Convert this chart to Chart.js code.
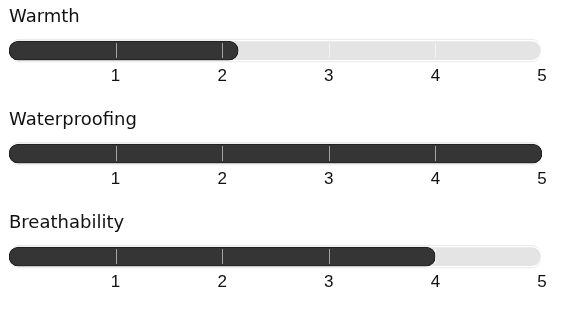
<!DOCTYPE html>
<html>
<head>
<meta charset="utf-8">
<script src="https://cdn.jsdelivr.net/npm/chart.js@4"></script>
<style>
html,body{margin:0;padding:0;background:#fff;}
.row{position:absolute;left:0;width:572px;height:103px;}
</style>
</head>
<body>
<div class="row" style="top:0"><canvas id="c0"></canvas></div>
<div class="row" style="top:103px"><canvas id="c1"></canvas></div>
<div class="row" style="top:206px"><canvas id="c2"></canvas></div>
<script>
const categories = ['Warmth', 'Waterproofing', 'Breathability'];
const ratings = [2.15, 5, 4];
const scaleMax = 5;
const tickValues = [1, 2, 3, 4, 5];

const dividerPlugin = {
  id: 'dividers',
  afterDatasetsDraw(chart) {
    const x = chart.scales.x, ctx = chart.ctx;
    const bar = chart.getDatasetMeta(1).data[0];
    const top = bar.y - bar.height / 2, bottom = bar.y + bar.height / 2;
    ctx.save();
    ctx.strokeStyle = 'rgba(255,255,255,0.55)';
    ctx.lineWidth = 1;
    tickValues.filter(v => v < scaleMax).forEach(v => {
      const px = Math.round(x.getPixelForValue(v)) + 0.5;
      ctx.beginPath();
      ctx.moveTo(px, top + 3);
      ctx.lineTo(px, bottom - 3);
      ctx.stroke();
    });
    ctx.restore();
  }
};

categories.forEach((cat, i) => {
  new Chart(document.getElementById('c' + i), {
    type: 'bar',
    data: {
      labels: [cat],
      datasets: [
        { data: [ratings[i]], backgroundColor: '#353535', borderColor: '#1c1c1c', borderWidth: 1,
          borderRadius: 10, borderSkipped: false, barThickness: 19, grouped: false },
        { data: [scaleMax], backgroundColor: '#e4e4e4', borderColor: '#ffffff', borderWidth: 1.5,
          borderRadius: 11, borderSkipped: false, barThickness: 21, grouped: false },
        { data: [scaleMax], backgroundColor: '#e9e9e9', borderWidth: 0,
          borderRadius: 12, borderSkipped: false, barThickness: 23, grouped: false }
      ]
    },
    options: {
      indexAxis: 'y',
      responsive: true,
      maintainAspectRatio: false,
      animation: false,
      events: [],
      layout: { padding: { left: 9, right: 30, top: 0, bottom: 12 } },
      plugins: {
        legend: { display: false },
        tooltip: { enabled: false },
        title: {
          display: true, text: cat, align: 'start', color: '#111',
          font: { family: 'DejaVu Sans', size: 18, weight: 'normal' },
          padding: { top: 7, bottom: 10 }
        }
      },
      scales: {
        y: { display: false },
        x: {
          min: 0, max: scaleMax,
          border: { display: false },
          grid: { display: false, drawTicks: false },
          ticks: {
            stepSize: 1, padding: 4, color: '#111',
            font: { family: 'Liberation Sans', size: 17 },
            callback: v => (v === 0 ? '' : v)
          }
        }
      }
    },
    plugins: [dividerPlugin]
  });
});
</script>
</body>
</html>
